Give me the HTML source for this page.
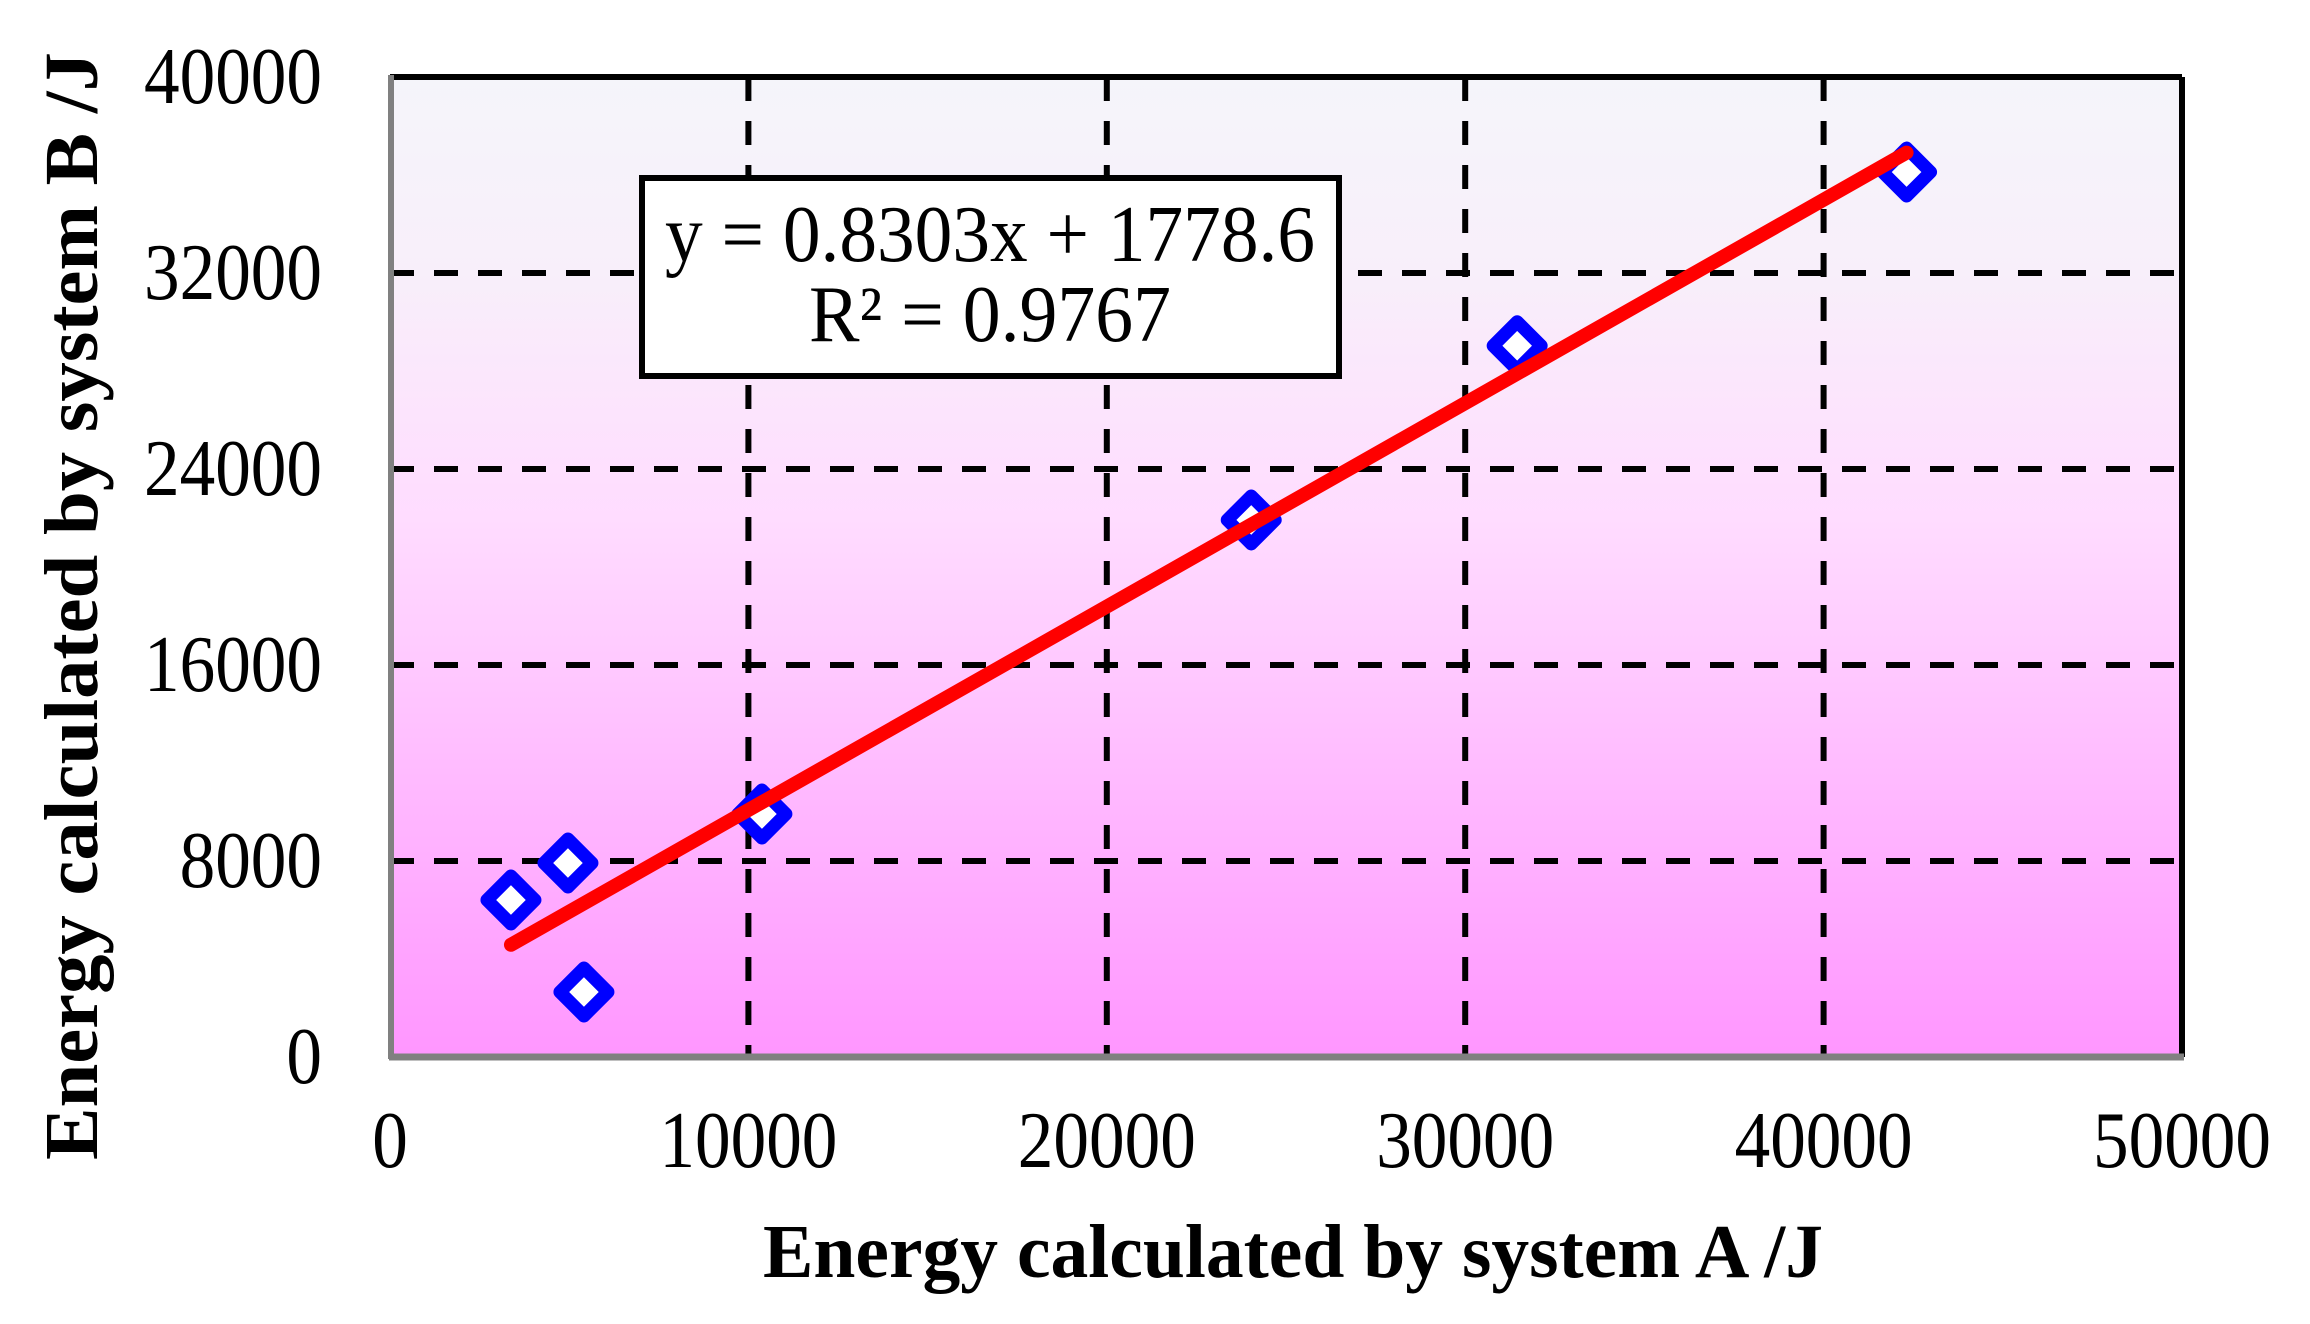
<!DOCTYPE html>
<html><head><meta charset="utf-8"><style>
html,body{margin:0;padding:0;background:#fff;}
svg{display:block;font-family:"Liberation Serif",serif;}
</style></head><body>
<svg id="chart" width="2310" height="1324" viewBox="0 0 2310 1324" xmlns="http://www.w3.org/2000/svg">
<defs>
<linearGradient id="bg" x1="0" y1="0" x2="0" y2="1">
<stop offset="0" stop-color="#f5f5fa"/>
<stop offset="0.2" stop-color="#f8effa"/>
<stop offset="0.45" stop-color="#ffdcff"/>
<stop offset="1" stop-color="#ff96ff"/>
</linearGradient>
</defs>
<rect x="390" y="77" width="1792" height="980" fill="url(#bg)"/>
<g id="grid"></g>
<line x1="390" y1="77" x2="2182" y2="77" stroke="#000" stroke-width="6"/>
<line x1="2182" y1="77" x2="2182" y2="1057" stroke="#000" stroke-width="6"/>
<line x1="391" y1="75" x2="391" y2="1059" stroke="#808080" stroke-width="6"/>
<line x1="389" y1="1057" x2="2184" y2="1057" stroke="#808080" stroke-width="7"/>
<g id="ticks"></g>
<g id="marks"></g>
<g>
<rect x="642" y="178" width="697" height="198" fill="#fff" stroke="#000" stroke-width="6"/>
<text x="990" y="261" font-size="80" text-anchor="middle" textLength="650" lengthAdjust="spacingAndGlyphs">y = 0.8303x + 1778.6</text>
<text x="990" y="341" font-size="80" text-anchor="middle" textLength="362" lengthAdjust="spacingAndGlyphs">R² = 0.9767</text>
</g>
<text x="1293" y="1277" font-size="76" font-weight="bold" text-anchor="middle" textLength="1060" lengthAdjust="spacingAndGlyphs">Energy calculated by system A /J</text>
<text transform="translate(97,606) rotate(-90)" x="0" y="0" font-size="76" font-weight="bold" text-anchor="middle" textLength="1108" lengthAdjust="spacingAndGlyphs">Energy calculated by system B /J</text>
</svg>
<script>
const xTicks = [0, 10000, 20000, 30000, 40000, 50000];
const yTicks = [0, 8000, 16000, 24000, 32000, 40000];
const xValues = [3375, 4965, 5411, 10377, 24030, 31450, 42315];
const yValues = [6408, 7918, 2653, 9918, 21920, 29030, 36120];
const slope = 0.8303;
const intercept = 1778.6;
const fitRange = [3375, 42315];

const X0 = 390, X1 = 2182, Y0 = 1057, Y1 = 77;
const sx = v => X0 + (v - 0) / (50000 - 0) * (X1 - X0);
const sy = v => Y0 - (v - 0) / (40000 - 0) * (Y0 - Y1);
const NS = 'http://www.w3.org/2000/svg';
function mk(tag, attrs, parent) {
  const e = document.createElementNS(NS, tag);
  for (const k in attrs) e.setAttribute(k, attrs[k]);
  parent.appendChild(e);
  return e;
}
const grid = document.getElementById('grid');
const ticks = document.getElementById('ticks');
const marks = document.getElementById('marks');

xTicks.forEach(v => {
  if (v > 0 && v < 50000) {
    const g = mk('line', {x1: sx(v), y1: Y1, x2: sx(v), y2: Y0, stroke: '#000', 'stroke-width': 6, 'stroke-dasharray': '24 20'}, grid);
    
    
  }
  const s = String(v);
  const t = mk('text', {x: sx(v), y: 1167, 'font-size': 80, 'text-anchor': 'middle', textLength: s.length * 35.6, lengthAdjust: 'spacingAndGlyphs'}, ticks);
  t.textContent = s;
  
  
});
yTicks.forEach(v => {
  if (v > 0 && v < 40000) {
    const g = mk('line', {x1: X0, y1: sy(v), x2: X1, y2: sy(v), stroke: '#000', 'stroke-width': 6, 'stroke-dasharray': '24 20'}, grid);
    
    
  }
  const s = String(v);
  const t = mk('text', {x: 322, y: sy(v) + 26, 'font-size': 80, 'text-anchor': 'end', textLength: s.length * 35.6, lengthAdjust: 'spacingAndGlyphs'}, ticks);
  t.textContent = s;
  
  
});
const fit = mk('line', {x1: sx(fitRange[0]), y1: sy(slope * fitRange[0] + intercept), x2: sx(fitRange[1]), y2: sy(slope * fitRange[1] + intercept), stroke: '#ff0000', 'stroke-width': 14, 'stroke-linecap': 'round'}, marks);


xValues.forEach((xv, i) => {
  const cx = sx(xv), cy = sy(yValues[i]), r = 24;
  const p = mk('polygon', {points: `${cx},${cy - r} ${cx + r},${cy} ${cx},${cy + r} ${cx - r},${cy}`, fill: '#fff', stroke: '#0000ff', 'stroke-width': 13, 'stroke-linejoin': 'round'}, marks);
  
  
  marks.insertBefore(p, fit);
});
</script>
</body></html>
